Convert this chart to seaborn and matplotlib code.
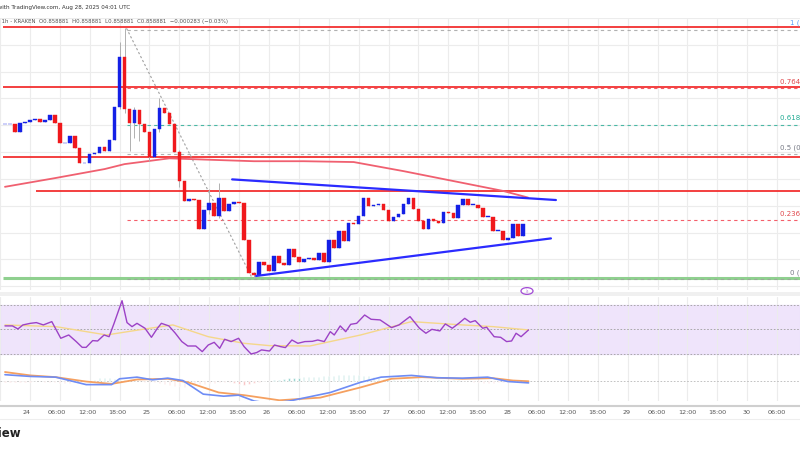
import numpy as np
import pandas as pd
import matplotlib
matplotlib.use("Agg")
import matplotlib.pyplot as plt
import seaborn as sns

sns.set_theme(style="white")

# ---------------- data ----------------
closes = [0.86132, 0.86132, 0.86115, 0.86135, 0.86137, 0.86144, 0.86146, 0.86139, 0.86144, 0.86154,
          0.86135, 0.86086, 0.86086, 0.86103, 0.86074, 0.86038, 0.86038, 0.86060, 0.86062, 0.86077,
          0.86067, 0.86094, 0.86175, 0.86295, 0.86170, 0.86135, 0.86168, 0.86132, 0.86113, 0.86053,
          0.86120, 0.86173, 0.86161, 0.86132, 0.86065, 0.85995, 0.85947, 0.85952, 0.85950, 0.85880,
          0.85926, 0.85942, 0.85911, 0.85954, 0.85923, 0.85940, 0.85945, 0.85942, 0.85851, 0.85772,
          0.85767, 0.85798, 0.85791, 0.85776, 0.85813, 0.85796, 0.85791, 0.85830, 0.85810, 0.85798,
          0.85806, 0.85808, 0.85803, 0.85820, 0.85798, 0.85851, 0.85832, 0.85875, 0.85849, 0.85894,
          0.85892, 0.85911, 0.85954, 0.85935, 0.85938, 0.85940, 0.85926, 0.85897, 0.85909, 0.85916,
          0.85940, 0.85954, 0.85928, 0.85897, 0.85878, 0.85902, 0.85899, 0.85894, 0.85921, 0.85918,
          0.85906, 0.85937, 0.85952, 0.85938, 0.85938, 0.85930, 0.85909, 0.85909, 0.85875, 0.85875,
          0.85851, 0.85856, 0.85890, 0.85863, 0.85892]
first_open = 0.86132
first_hour = -5  # hours relative to Aug 24 00:00
wick_overrides = {23: (0.86331, 0.86170), 24: (0.86365, 0.86160), 25: (0.86170, 0.86067),
                  26: (0.86175, 0.86100), 27: (0.86168, 0.86091), 29: (0.86115, 0.86044),
                  31: (0.86195, 0.86115), 35: (0.86070, 0.85980), 41: (0.85975, 0.85915),
                  43: (0.85990, 0.85905), 50: (0.85775, 0.85760)}

ma_hours = [-5, 5, 15, 19, 28, 35, 45, 55, 65, 75, 85, 95, 100]
ma_vals = [0.85981, 0.86002, 0.86024, 0.86036, 0.86050, 0.86047, 0.86043, 0.86043, 0.86041,
           0.86019, 0.85995, 0.85971, 0.85955]

upper_tl_h = [40.6, 105.6]; upper_tl_p = [0.85999, 0.85949]
lower_tl_h = [45.4, 104.6]; lower_tl_p = [0.85765, 0.85856]

fib_levels = [1, 0.764, 0.618, 0.5, 0.236, 0]
fib_low, fib_high = 0.85760, 0.86365
fib_colors = ["#9e9e9e", "#f23645", "#22ab94", "#9e9e9e", "#f23645", "#9e9e9e"]
fib_label_colors = ["#5b9cf6", "#e0474c", "#22ab94", "#787b86", "#e0474c", "#787b86"]

res_levels = [0.86368, 0.86222, 0.86054]
res_start = [-5.4, -5.4, -5.4]
mid_res = 0.85971; mid_res_start = 1.2

rsi_h = [-5.0, -3.5, -2.4, -1.4, 0.1, 1.3, 2.7, 4.4, 6.2, 7.8, 9.3, 10.5, 11.3, 12.6, 13.6, 14.9,
         15.9, 16.9, 18.5, 19.5, 20.5, 21.5, 23.1, 24.4, 25.6, 26.4, 27.9, 29.2, 30.5, 31.7, 33.3,
         34.6, 35.8, 37.0, 38.1, 39.1, 40.4, 41.9, 43.0, 44.4, 45.5, 46.5, 48.1, 49.1, 50.3, 51.3,
         52.6, 53.8, 55.2, 56.7, 57.8, 59.1, 60.3, 61.1, 62.3, 63.4, 64.4, 65.6, 67.2, 68.5, 70.3,
         72.6, 74.1, 76.3, 78.2, 79.5, 80.7, 82.3, 83.4, 84.8, 86.1, 87.3, 88.4, 89.4, 90.9, 91.7,
         93.2, 94.5, 95.7, 96.7, 97.6, 98.6, 100.1]
rsi_v = [52.9, 52.9, 50.4, 53.7, 55.0, 55.6, 53.7, 56.4, 42.8, 45.5, 40.1, 35.4, 35.4, 40.9, 40.6,
         45.5, 44.1, 55.0, 73.5, 55.6, 52.3, 55.0, 51.0, 43.6, 51.0, 55.0, 52.9, 46.9, 40.1, 36.5,
         36.5, 31.9, 37.3, 39.5, 34.6, 42.0, 40.1, 42.8, 36.0, 30.0, 31.1, 33.3, 32.4, 37.3, 36.0,
         35.2, 41.4, 38.7, 40.1, 40.3, 41.4, 40.1, 48.2, 45.5, 52.9, 48.2, 54.2, 55.0, 61.8, 58.3,
         57.8, 51.5, 53.7, 60.5, 51.0, 46.9, 50.1, 48.8, 54.5, 51.0, 55.0, 59.1, 55.9, 57.2, 51.0,
         51.8, 44.1, 43.6, 40.1, 40.6, 46.9, 44.1, 49.6]
rsi_sig_h = [-5, 5.2, 15.4, 22.6, 28.7, 35.8, 43.0, 48.1, 56.2, 66.4, 76.6, 86.8, 93.0, 100.1]
rsi_sig_v = [53.7, 52.3, 45.5, 50.1, 53.7, 44.1, 38.7, 36.8, 36.5, 45.5, 56.4, 53.7, 52.3, 49.6]

macd_h = [-5, 0.1, 5.2, 11.3, 16.4, 18.0, 21.5, 24.6, 27.7, 30.7, 34.8, 38.9, 41.9, 45.0, 48.1,
          52.1, 60.3, 66.4, 70.5, 76.6, 81.7, 86.8, 91.9, 96.0, 100.1]
macd_v = [5.7, 4.0, 3.3, -4.0, -4.0, 1.7, 3.3, 0.7, 2.3, 0.0, -13.3, -15.3, -14.3, -20.0, -22.3,
          -20.0, -11.7, -1.7, 3.3, 5.0, 2.7, 2.3, 3.3, -1.0, -2.3]
sig_h = [-5, 0.1, 5.2, 11.3, 16.4, 21.5, 27.7, 31.7, 37.9, 43.0, 50.1, 58.3, 66.4, 72.6, 78.7,
         86.8, 93.0, 97.0, 100.1]
sig_v = [8.3, 5.0, 3.3, -1.0, -3.3, 1.0, 1.7, -1.7, -11.7, -14.3, -19.3, -16.7, -6.7, 1.7, 3.3,
         1.7, 2.3, 0.0, -0.7]
hist_v = [-1, -1, -1, -1.5, -1, -1, -0.5, -0.5, -1, -1,
          -1.5, -2, -2, -2, -1.5, -1, -0.5, 0, 1, 2,
          2, 2, 1.5, 1, 0.5, 0, 0, -0.5, -1, -1,
          -1.5, -2, -3, -4, -5, -5, -6, -5, -4, -3,
          -3, -2, -2, -1, -1, -1.5, -2, -3, -4, -3,
          -2, -1, -0.5, 0, 0.5, 1, 1.5, 2, 2, 2.5,
          3, 3, 3, 3.5, 4, 4, 4.5, 5, 5, 5,
          5.5, 5, 4.5, 4, 3, 2, 1.5, 1, 0.5, 0,
          0, 0.5, 0.5, 0, 0, -0.5, 0, 0.5, 0.5, 0,
          0.5, 0.5, 0, -0.5, -1, -1.5, -2, -2, -2, -1.5,
          -1, -1, -0.5, -0.5, 0]

tick_hours = list(range(-6, 156, 6))
tick_labels = ["00", "24", "06:00", "12:00", "18:00", "25", "06:00", "12:00", "18:00", "26",
               "06:00", "12:00", "18:00", "27", "06:00", "12:00", "18:00", "28", "06:00", "12:00",
               "18:00", "29", "06:00", "12:00", "18:00", "30", "06:00"]

header1 = "Published with TradingView.com, Aug 28, 2025 04:01 UTC"
header2 = "Euro / British Pound - 1h - KRAKEN  O0.858881  H0.858881  L0.858881  C0.858881  \u22120.000283 (\u22120.03%)"

# ---------------- build ----------------
n = len(closes)
hours = np.arange(first_hour, first_hour + n)
opens = [first_open] + closes[:-1]
df = pd.DataFrame({"h": hours, "o": opens, "c": closes})
df["hi"] = df[["o", "c"]].max(axis=1)
df["lo"] = df[["o", "c"]].min(axis=1)
for i, (hh, ll) in wick_overrides.items():
    df.loc[i, "hi"] = hh
    df.loc[i, "lo"] = ll
df["up"] = df["c"] >= df["o"]

W, H = 800, 450
fig = plt.figure(figsize=(8, 4.5), dpi=100)
fig.patch.set_facecolor("white")

def fy(px):
    return 1 - px / H

XL = (-5.4, 154.6)
BLUE = "#1420e6"; RED = "#f0181c"

ax = fig.add_axes([0, fy(290), 1, (290 - 18) / H])
ax_r = fig.add_axes([0, fy(358), 1, (358 - 297) / H])
ax_m = fig.add_axes([0, fy(401), 1, (401 - 358) / H])

for a in (ax, ax_r, ax_m):
    a.set_xlim(*XL)
    a.set_facecolor("white")
    for s in a.spines.values():
        s.set_visible(False)
    a.set_xticks(tick_hours)
    a.tick_params(length=0, labelbottom=False, labelleft=False)
    a.xaxis.grid(True, color="#ececec", lw=0.8)
    a.set_axisbelow(True)

ax.set_ylim(0.85731, 0.86384)
ax.set_yticks(np.arange(0.8574, 0.8640, 0.00065))
ax.yaxis.grid(True, color="#ececec", lw=0.8)

for lv, st in zip(res_levels, res_start):
    ax.hlines(lv, st, XL[1], color="#f23030", lw=1.3, zorder=2)
ax.hlines(mid_res, mid_res_start, XL[1], color="#f23030", lw=1.3, zorder=2)
ax.hlines(fib_low, XL[0], XL[1], color="#8fd08f", lw=2.2, zorder=2)

fib_start = 19.4
for lv, col, lc in zip(fib_levels, fib_colors, fib_label_colors):
    p = fib_low + (fib_high - fib_low) * lv
    ax.hlines(p - 0.00003, fib_start, XL[1], color=col, lw=0.8, ls=(0, (3, 3)), alpha=0.8, zorder=2)
    lab = f"{lv:g} ({p:.6f})"
    ax.text(150.5 if lv not in (1, 0) else 152.5, p + 0.00006, lab, fontsize=5, color=lc,
            ha="left", va="bottom", zorder=5, clip_on=False)
ax.plot([19.4, 44.6], [fib_high, fib_low], color="#a0a0a0", lw=0.8, ls=(0, (2, 2)), zorder=2)

sns.lineplot(x=ma_hours, y=ma_vals, ax=ax, color="#f06070", lw=1.3, zorder=3)

for _, r in df.iterrows():
    col = BLUE if r.up else RED
    ax.vlines(r.h, r.lo, r.hi, color="#b0b0b0", lw=0.7, zorder=4)
    bot = min(r.o, r.c); ht = max(abs(r.c - r.o), 0.000012)
    ax.bar(r.h, ht, bottom=bot, width=0.72, color=col, edgecolor=col, lw=0.3, zorder=5)

sns.lineplot(x=upper_tl_h, y=upper_tl_p, ax=ax, color="#2b2bff", lw=1.6, zorder=6)
sns.lineplot(x=lower_tl_h, y=lower_tl_p, ax=ax, color="#2b2bff", lw=1.6, zorder=6)

ax_r.set_ylim(26.7, 76.5)
ax_r.axhspan(30, 70, color="#ede0fb", alpha=0.85, zorder=0)
for lv in (30, 50, 70):
    ax_r.axhline(lv, color="#9e9e9e", lw=0.6, ls=(0, (2, 2)), zorder=1)
sns.lineplot(x=rsi_sig_h, y=rsi_sig_v, ax=ax_r, color="#f5d78a", lw=1.0, zorder=2)
sns.lineplot(x=rsi_h, y=rsi_v, ax=ax_r, color="#9c42c6", lw=1.0, zorder=3)

ax_m.set_ylim(-20, 22)
ax_m.axhline(0, color="#b8b8b8", lw=0.6, ls=(0, (2, 2)))
hcol = ["#26a69a" if v > 0 else "#f48c8c" for v in hist_v]
ax_m.bar(hours, hist_v, width=0.25, color=hcol, alpha=0.7, zorder=2)
sns.lineplot(x=sig_h, y=sig_v, ax=ax_m, color="#f5a060", lw=1.3, zorder=3)
sns.lineplot(x=macd_h, y=macd_v, ax=ax_m, color="#6e8cf5", lw=1.2, zorder=4)

fig.add_artist(plt.Rectangle((0, fy(296)), 1, 4 / H, transform=fig.transFigure,
                             color="#f0f0f0", lw=0))
fig.add_artist(plt.Line2D([0, 1], [fy(406), fy(406)], transform=fig.transFigure,
                          color="#cfcfcf", lw=1.5))
fig.add_artist(plt.Line2D([0, 1], [fy(419), fy(419)], transform=fig.transFigure,
                          color="#eeeeee", lw=0.8))

for th, tl in zip(tick_hours, tick_labels):
    xf = (th - XL[0]) / (XL[1] - XL[0])
    fig.text(xf, fy(412), tl, fontsize=4.6, color="#555555", ha="center", va="center")

fig.add_artist(plt.Circle((527 / W, fy(291)), 0.0075, transform=fig.transFigure,
                          fill=False, color="#a24bd6", lw=0.9))
fig.text(527 / W, fy(291), "$\\flat$", fontsize=4, color="#a24bd6", ha="center", va="center")

fig.text(130 / W, fy(7), header1, fontsize=4.1, color="#333333", ha="right", va="center")
fig.text(228 / W, fy(21), header2, fontsize=3.9, color="#555555", ha="right", va="center")
fig.text(22 / W, fy(434), "TradingView", fontsize=8.5, fontweight="bold", color="#222222",
         ha="right", va="center")

fig.savefig("out.png", dpi=100, facecolor="white")
